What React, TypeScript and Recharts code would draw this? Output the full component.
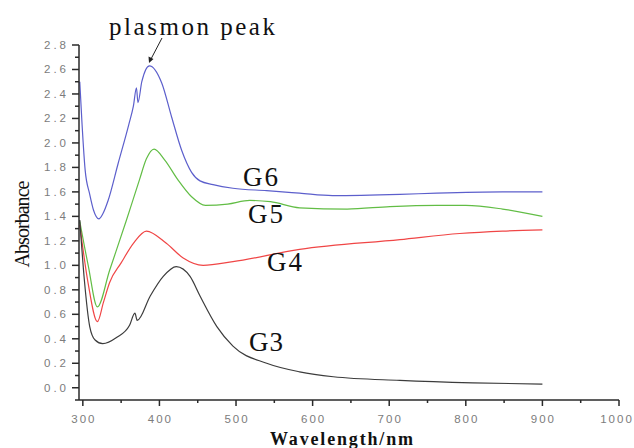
import { LineChart, Line, XAxis, YAxis } from 'recharts';

type Pt = { x: number; y: number };

// wavelength (nm) / absorbance pairs
const G6_X = [296, 299, 303, 309, 314, 321, 326, 333, 346, 360, 366, 370, 372, 377, 387, 403, 416, 429, 442, 453, 470, 496, 540, 583, 626, 714, 762, 848, 900];
const G6_Y = [2.5, 2.15, 1.78, 1.58, 1.45, 1.38, 1.42, 1.53, 1.83, 2.15, 2.3, 2.45, 2.33, 2.5, 2.63, 2.49, 2.21, 1.94, 1.76, 1.69, 1.66, 1.63, 1.61, 1.59, 1.57, 1.58, 1.59, 1.6, 1.6];

const G5_X = [296, 307, 319, 335, 357, 374, 383, 393, 407, 424, 442, 460, 489, 518, 545, 583, 645, 701, 762, 800, 848, 900];
const G5_Y = [1.36, 1.0, 0.66, 0.96, 1.37, 1.7, 1.87, 1.95, 1.86, 1.7, 1.56, 1.49, 1.5, 1.53, 1.52, 1.47, 1.46, 1.48, 1.49, 1.49, 1.46, 1.4];

const G4_X = [296, 307, 319, 327, 335, 350, 366, 383, 409, 431, 457, 496, 583, 714, 792, 848, 900];
const G4_Y = [1.33, 0.85, 0.54, 0.7, 0.86, 1.02, 1.18, 1.28, 1.18, 1.06, 1.0, 1.03, 1.13, 1.21, 1.26, 1.28, 1.29];

const G3_X = [296, 302, 309, 316, 326, 344, 361, 368, 371, 388, 405, 422, 440, 453, 475, 496, 540, 583, 627, 714, 809, 900];
const G3_Y = [1.37, 0.88, 0.5, 0.39, 0.36, 0.41, 0.51, 0.61, 0.55, 0.75, 0.91, 0.99, 0.91, 0.75, 0.5, 0.34, 0.2, 0.13, 0.09, 0.06, 0.04, 0.03];

const X_TICKS = [300, 350, 400, 450, 500, 550, 600, 650, 700, 750, 800, 850, 900, 950, 1000];
const Y_TICKS = [
  -0.1, 0.0, 0.1, 0.2, 0.3, 0.4, 0.5, 0.6, 0.7, 0.8, 0.9, 1.0, 1.1, 1.2, 1.3, 1.4,
  1.5, 1.6, 1.7, 1.8, 1.9, 2.0, 2.1, 2.2, 2.3, 2.4, 2.5, 2.6, 2.7, 2.8,
];

const zip = (xs: number[], ys: number[]): Pt[] => xs.map((x, i) => ({ x, y: ys[i] }));

const SERIES = [
  { name: 'G6', data: zip(G6_X, G6_Y), color: '#5c5fcc' },
  { name: 'G5', data: zip(G5_X, G5_Y), color: '#62bd45' },
  { name: 'G4', data: zip(G4_X, G4_Y), color: '#f04646' },
  { name: 'G3', data: zip(G3_X, G3_Y), color: '#3c3c3c' },
];

const AXIS = '#2a2a2a';
const TICK_TXT = '#7c7c7c';
const SANS = '"Liberation Sans", Arial, sans-serif';
const SERIF = '"Liberation Serif", "Times New Roman", serif';

function XTick(props: any) {
  const { x, y, payload } = props;
  const major = payload.value % 100 === 0;
  // last label sits against the right edge, nudge it in a bit
  const dx = payload.value === 1000 ? -2 : 1;
  return (
    <g>
      <line x1={x} x2={x} y1={y} y2={y + (major ? 6 : 3)} stroke={AXIS} strokeWidth={1.5} />
      {major && (
        <text x={x + dx} y={y + 23} textAnchor="middle" fontFamily={SANS} fontSize={11.5} letterSpacing={2} fill={TICK_TXT}>
          {payload.value}
        </text>
      )}
    </g>
  );
}

function YTick(props: any) {
  const { x, y, payload } = props;
  const major = Math.round(payload.value * 10) % 2 === 0;
  return (
    <g>
      <line x1={x} x2={x - (major ? 7 : 4)} y1={y} y2={y} stroke={AXIS} strokeWidth={1.5} />
      {major && (
        <text x={x - 10} y={y + 4} textAnchor="end" fontFamily={SANS} fontSize={11.5} letterSpacing={3} fill={TICK_TXT}>
          {payload.value.toFixed(1)}
        </text>
      )}
    </g>
  );
}

export default function App() {
  return (
    <div style={{ position: 'relative', width: 634, height: 448, background: '#fff' }}>
      <style>{'body{margin:0}'}</style>
      <LineChart width={634} height={448} margin={{ top: 45, right: 15, bottom: 18, left: 19 }}>
        <XAxis
          type="number"
          dataKey="x"
          domain={[295, 1000]}
          ticks={X_TICKS}
          interval={0}
          allowDataOverflow
          height={30}
          tickSize={0}
          tickMargin={0}
          tickLine={false}
          axisLine={{ stroke: AXIS, strokeWidth: 1.5 }}
          tick={<XTick />}
        />
        <YAxis
          type="number"
          domain={[-0.1, 2.8]}
          ticks={Y_TICKS}
          interval={0}
          allowDataOverflow
          width={60}
          tickSize={0}
          tickMargin={0}
          tickLine={false}
          axisLine={{ stroke: AXIS, strokeWidth: 1.5 }}
          tick={<YTick />}
        />
        {SERIES.map((s) => (
          <Line
            key={s.name}
            data={s.data}
            dataKey="y"
            name={s.name}
            type="monotone"
            stroke={s.color}
            strokeWidth={1.2}
            dot={false}
            isAnimationActive={false}
          />
        ))}
      </LineChart>
      <svg width={634} height={448} style={{ position: 'absolute', left: 0, top: 0, pointerEvents: 'none' }}>
        <text x={109} y={35} fontFamily={SERIF} fontSize={25} textLength={166} lengthAdjust="spacing" fill="#111">
          plasmon peak
        </text>
        <line x1={162} y1={38} x2={151} y2={59} stroke="#222" strokeWidth={1} />
        <path d="M149,63 L148.5,56.5 L153.5,59 Z" fill="#222" />
        <text x={243} y={186} fontFamily={SERIF} fontSize={27} textLength={35} lengthAdjust="spacing" fill="#111">G6</text>
        <text x={248} y={223} fontFamily={SERIF} fontSize={27} textLength={35} lengthAdjust="spacing" fill="#111">G5</text>
        <text x={267} y={271} fontFamily={SERIF} fontSize={27} textLength={35} lengthAdjust="spacing" fill="#111">G4</text>
        <text x={249} y={351} fontFamily={SERIF} fontSize={27} textLength={34} lengthAdjust="spacing" fill="#111">G3</text>
        <text
          x={0}
          y={0}
          transform="translate(29,224) rotate(-90)"
          textAnchor="middle"
          fontFamily={SERIF}
          fontSize={20}
          textLength={87}
          lengthAdjust="spacing"
          fill="#111"
        >
          Absorbance
        </text>
        <text x={270} y={445} fontFamily={SERIF} fontSize={18} fontWeight="bold" textLength={143} lengthAdjust="spacing" fill="#111">
          Wavelength/nm
        </text>
      </svg>
    </div>
  );
}
